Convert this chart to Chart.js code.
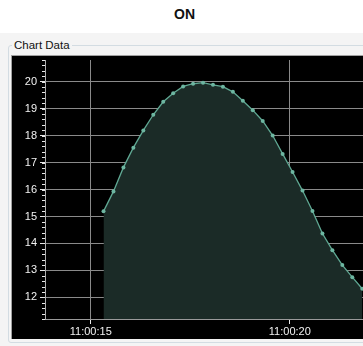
<!DOCTYPE html>
<html>
<head>
<meta charset="utf-8">
<script src="https://cdn.jsdelivr.net/npm/chart.js@4/dist/chart.umd.min.js"></script>
<style>
  body { margin: 0; background: #fff; overflow: hidden; width: 363px; height: 346px; font-family: "Liberation Sans", Arial, sans-serif; }
  #title { position: absolute; top: 6px; left: 0; width: 369px; text-align: center; font-weight: bold; font-size: 14px; color: #111; }
  #panel { position: absolute; top: 33px; left: 0; width: 363px; height: 313px; background: #f4f4f4; }
  #group { position: absolute; top: 45px; left: 8px; width: 420px; height: 296px; border: 1px solid #d3dce2; border-radius: 3px; }
  #groupLabel { position: absolute; top: 39px; left: 12px; padding: 0 2px; background: #f4f4f4; font-size: 11.5px; line-height: 13px; color: #111; }
  #plot { position: absolute; top: 55px; left: 11px; width: 446px; height: 284px; background: #000; border-top: 1px solid #a0a0a0; border-left: 1px solid #a0a0a0; box-sizing: border-box; }
  #plot canvas { position: absolute; top: 0; left: 0; }
</style>
</head>
<body>
<div id="title">ON</div>
<div id="panel"></div>
<div id="group"></div>
<div id="groupLabel">Chart Data</div>
<div id="plot"><canvas id="chart" width="445" height="283"></canvas></div>
<script>
// seconds after 11:00:00
const times = [15.32, 15.57, 15.82, 16.07, 16.32, 16.57, 16.82, 17.07, 17.32, 17.57, 17.82, 18.07, 18.32, 18.57,
  18.82, 19.07, 19.32, 19.57, 19.82, 20.07, 20.32, 20.57, 20.82, 21.07, 21.32, 21.57, 21.82];
const values = [15.19, 15.93, 16.82, 17.55, 18.19, 18.77, 19.25, 19.57, 19.82, 19.92, 19.96, 19.88, 19.81, 19.62,
  19.29, 18.94, 18.54, 18.00, 17.32, 16.65, 15.96, 15.20, 14.37, 13.75, 13.20, 12.75, 12.32];
const xTicks = [15, 20];
const xTickLabels = ['11:00:15', '11:00:20'];
const yTicks = [12, 13, 14, 15, 16, 17, 18, 19, 20];
const yMinorStep = 0.2;

const tickFont = { family: "'Liberation Sans', Arial, sans-serif", size: 11 };

const minorTicks = {
  id: 'minorTicks',
  afterDraw(chart) {
    const y = chart.scales.y, ctx = chart.ctx, left = chart.chartArea.left;
    ctx.save(); ctx.strokeStyle = '#e8e8e8'; ctx.lineWidth = 1;
    for (let v = y.min; v <= y.max + 1e-6; v += yMinorStep) {
      const p = Math.round(y.getPixelForValue(v)) + 0.5;
      ctx.beginPath(); ctx.moveTo(left - 3, p); ctx.lineTo(left, p); ctx.stroke();
    }
    ctx.restore();
  }
};

const noPad = s => { s.paddingTop = 0; s.paddingBottom = 0; s.paddingLeft = 0; s.paddingRight = 0; };

new Chart(document.getElementById('chart').getContext('2d'), {
  type: 'line',
  data: {
    datasets: [{
      data: times.map((t, i) => ({ x: t, y: values[i] })),
      borderColor: '#5fa893', borderWidth: 1.3, tension: 0,
      pointRadius: 2, pointBackgroundColor: '#6db6a1', pointBorderWidth: 0,
      fill: 'start', backgroundColor: '#1b2b27'
    }]
  },
  options: {
    responsive: false, animation: false,
    layout: { padding: 0 },
    plugins: { legend: { display: false }, tooltip: { enabled: false } },
    scales: {
      x: {
        type: 'linear', min: 13.85, max: 24.1, z: 1,
        afterBuildTicks: s => { s.ticks = xTicks.map(v => ({ value: v })); },
        afterFit: s => { s.height = 20; noPad(s); },
        ticks: { color: '#f2f2f2', font: tickFont, padding: 1, maxRotation: 0,
          callback: v => xTickLabels[xTicks.indexOf(v)] ?? '' },
        grid: { color: '#8a8a8a', tickColor: '#e8e8e8', tickLength: 5, lineWidth: 1 },
        border: { color: '#9a9a9a' }
      },
      y: {
        min: 11.2, max: 20.8, z: 1,
        afterBuildTicks: s => { s.ticks = yTicks.map(v => ({ value: v })); },
        afterFit: s => { s.width = 33; noPad(s); },
        ticks: { color: '#f2f2f2', font: tickFont, padding: 3, callback: v => String(v) },
        grid: { color: '#8a8a8a', tickColor: '#e8e8e8', tickLength: 5, lineWidth: 1 },
        border: { color: '#b0b0b0' }
      }
    }
  },
  plugins: [minorTicks]
});
</script>
</body>
</html>
